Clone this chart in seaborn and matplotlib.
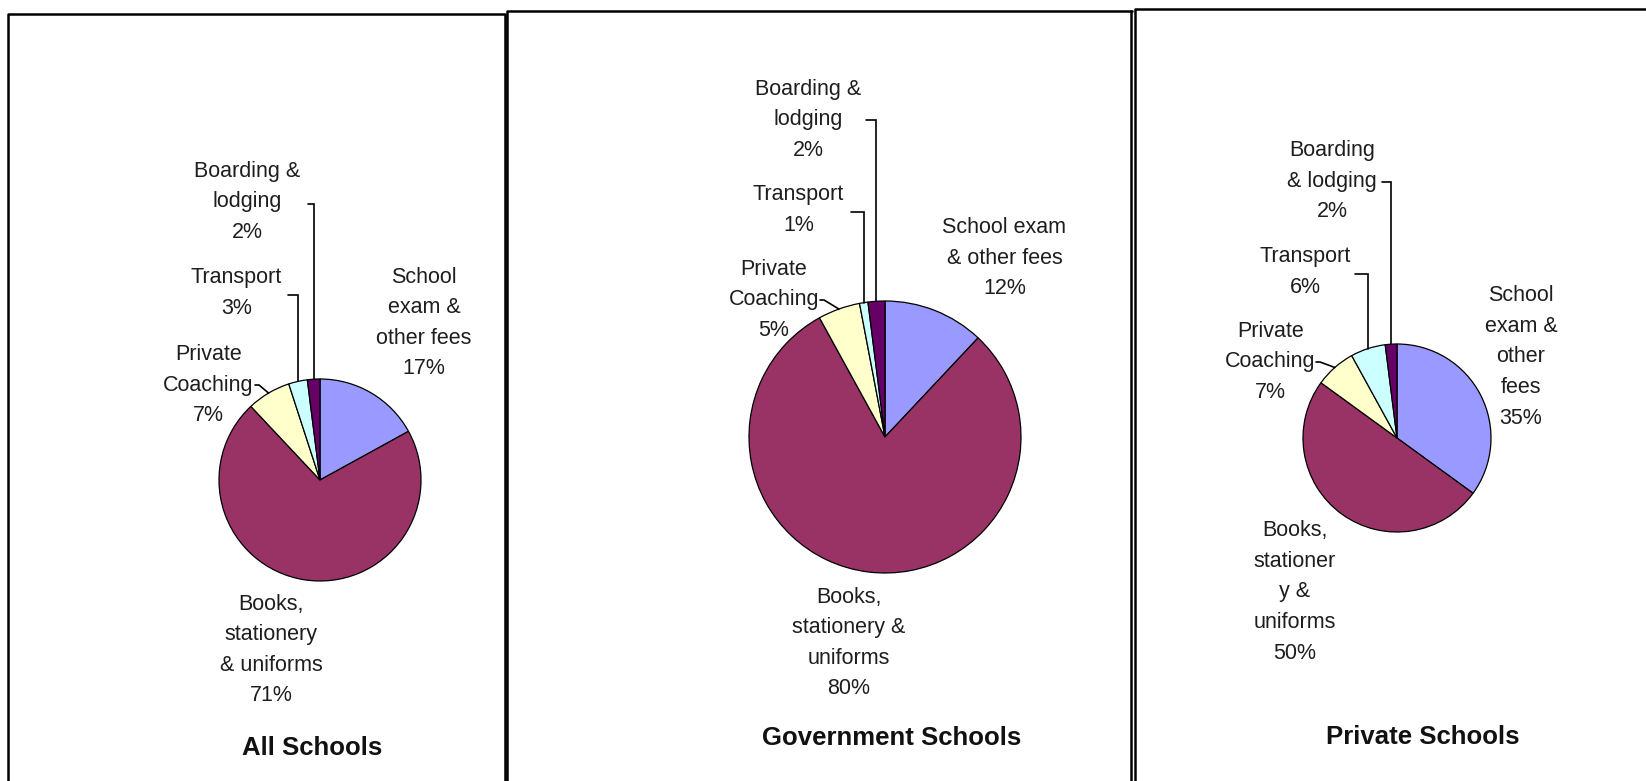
import numpy as np
import matplotlib
matplotlib.use("Agg")
import matplotlib.pyplot as plt
from matplotlib.lines import Line2D
import seaborn as sns

# ---------------- data ----------------
categories = ["School exam & other fees", "Books, stationery & uniforms",
              "Private Coaching", "Transport", "Boarding & lodging"]
all_schools = [17, 71, 7, 3, 2]
government_schools = [12, 80, 5, 1, 2]
private_schools = [35, 50, 7, 6, 2]
panel_titles = ["All Schools", "Government Schools", "Private Schools"]
label_texts = [
    ["School\nexam &\nother fees", "Books,\nstationery\n& uniforms",
     "Private\nCoaching", "Transport", "Boarding &\nlodging"],
    ["School exam\n& other fees", "Books,\nstationery &\nuniforms",
     "Private\nCoaching", "Transport", "Boarding &\nlodging"],
    ["School\nexam &\nother\nfees", "Books,\nstationer\ny &\nuniforms",
     "Private\nCoaching", "Transport", "Boarding\n& lodging"],
]
slice_colors = ["#9999FF", "#993366", "#FFFFCC", "#CCFFFF", "#660066"]

# ---------------- layout (pixels) ----------------
W, H = 1646, 781
layout = [
    dict(center=(320, 480), r=101, panel=(8, 14, 505, 781),
         labels=[(424, 323), (271, 650), (208.5, 385), (236.5, 293), (247.5, 202)],
         title=(312, 748),
         leaders={2: (255, 385), 3: (288, 295), 4: (308, 204)}),
    dict(center=(885, 437), r=136, panel=(506, 11, 1132, 781),
         labels=[(1004.5, 258), (849, 643), (774, 300), (798.5, 210), (808, 120)],
         title=(892, 738),
         leaders={2: (820, 300), 3: (851, 212), 4: (866, 120)}),
    dict(center=(1397, 438), r=94, panel=(1135, 9, 1646, 781),
         labels=[(1521, 357), (1295, 592), (1270.6, 362), (1305, 272), (1332, 181)],
         title=(1423, 737),
         leaders={2: (1316, 362), 3: (1355, 274), 4: (1382, 182)}),
]

sns.set_theme(style="white")
plt.rcParams['font.family'] = ['Liberation Sans', 'DejaVu Sans']
colors = sns.color_palette(slice_colors)

fig = plt.figure(figsize=(W / 100, H / 100), dpi=100)
fig.patch.set_facecolor("white")

datasets = [all_schools, government_schools, private_schools]
TEXT_COLOR = "#1e1e1e"

for k, (values, lay) in enumerate(zip(datasets, layout)):
    x0, y0, x1, y1 = lay["panel"]
    cx, cy = lay["center"]
    r = lay["r"]
    ax = fig.add_axes([x0 / W, 1 - y1 / H, (x1 - x0) / W, (y1 - y0) / H])
    ax.pie(values, colors=colors, startangle=90, counterclock=False,
           wedgeprops=dict(edgecolor="black", linewidth=0.9))
    ax.set_xlim((x0 - cx) / r, (x1 - cx) / r)
    ax.set_ylim((cy - y1) / r, (cy - y0) / r)
    ax.set_aspect("auto")
    ax.set_axis_off()

    def to_data(px, py):
        return (px - cx) / r, (cy - py) / r

    total = float(sum(values))
    cum = np.cumsum([0] + list(values))
    for i, v in enumerate(values):
        tx, ty = to_data(*lay["labels"][i])
        ax.text(tx, ty, f"{label_texts[k][i]}\n{v}%", ha="center", va="center",
                multialignment="center", fontsize=15.5, linespacing=1.6,
                color=TEXT_COLOR)
        if i in lay["leaders"]:
            theta = np.deg2rad(90 - 360 * (cum[i] + v / 2) / total)
            ex, ey = np.cos(theta), np.sin(theta)
            sx, sy = to_data(*lay["leaders"][i])
            if i == 2:
                xs = [sx, sx + 4 / r, ex]
                ys = [sy, sy, ey]
            else:
                xs = [sx, ex, ex]
                ys = [sy, sy, ey]
            ax.plot(xs, ys, color="black", linewidth=1.2, solid_joinstyle="miter",
                    clip_on=False)
    ttx, tty = to_data(*lay["title"])
    ax.text(ttx, tty, panel_titles[k], ha="center", va="center",
            fontsize=18.5, fontweight="bold", color="#111111")

# ---------------- panel borders ----------------
def fline(xs, ys, lw=1.8):
    fig.add_artist(Line2D([x / W for x in xs], [1 - y / H for y in ys],
                          color="black", linewidth=lw))

fline([8, 8, 505, 505], [781, 14, 14, 781])
fline([507, 507, 1132], [781, 11, 11])
fline([1131, 1131], [11, 781])
fline([1135, 1135, 1646], [781, 9, 9])

fig.savefig("out.png", dpi=100, facecolor="white")
